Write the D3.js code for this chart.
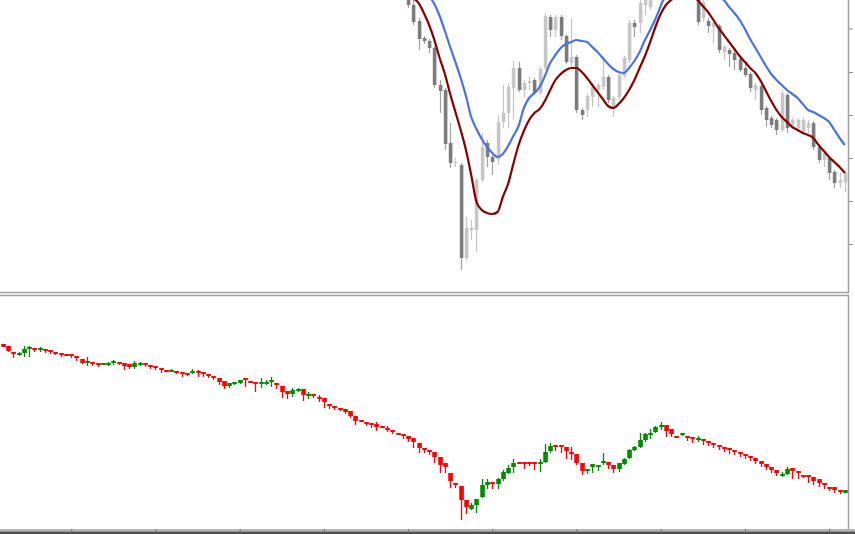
<!DOCTYPE html>
<html><head><meta charset="utf-8">
<script src="https://cdn.jsdelivr.net/npm/d3@7"></script>
<style>html,body{margin:0;padding:0;background:#fff;overflow:hidden}svg{display:block}</style>
</head><body><svg id="chart" width="855" height="534"></svg>
<script>
// ---------- DATA ----------
const barCount = 161;
const upperFirstBar = 77;
const upperOpen = [310,295,279,262,259,252,215,210,157,137,135,42,70,70,120,157,143,141,178,187,212,232,210,217,220,207,232,283,270,283,264,237,243,190,190,203,210,213,223,192,203,224,240,277,277,295,293,310,328,340,330,322,333,315,308,305,282,279,273,274,248,250,247,241,232,226,210,214,192,182,180,170,205,175,172,168,172,177,153,140,142,128,117,118];
const upperHigh = [315,302,282,264,261,254,220,212,177,142,137,83,80,122,167,160,145,185,215,217,239,238,220,223,222,233,287,285,285,285,266,282,245,192,206,217,217,243,225,204,227,244,280,280,300,308,318,335,345,348,335,340,336,320,322,308,303,282,280,276,255,252,249,243,237,228,217,216,194,184,182,210,207,182,182,182,180,179,155,150,144,130,127,129];
const upperLow = [292,275,250,256,247,212,187,150,132,133,30,40,60,48,118,133,125,135,172,172,180,208,203,210,205,205,230,263,263,260,236,233,187,180,183,193,193,210,197,183,200,222,237,263,267,285,290,305,320,325,315,318,310,302,304,275,278,267,257,247,240,233,230,228,223,208,200,185,173,172,165,168,167,172,170,166,167,150,137,133,120,112,112,108];
const upperClose = [295,278,261,259,252,215,209,156,137,138,42,72,72,120,153,143,138,178,187,213,232,210,217,219,207,231,284,270,283,264,238,243,190,185,204,213,215,223,200,202,225,242,277,273,297,305,315,330,340,330,320,335,315,305,318,278,298,274,277,250,253,246,240,230,225,212,215,190,180,175,170,207,172,180,180,180,177,153,140,147,127,117,120,127];
const maFast = [340,330,322,314,304,296,284,269,253,238,222,204,183,171,161,153,147,143,146,154,164,174,192,202,207,213,224,237,245,252,256,258,260,259,258,253,248,242,236,231,228,227,232,239,248,260,270,281,294,306,314,320,324,326,326,324,320,315,309,303,300,293,287,280,271,261,252,243,234,226,220,215,210,206,202,196,190,188,185,182,178,170,162,155];
const maSlow = [308,302,297,287,275,260,242,226,206,188,170,150,125,98,90,87,86,88,103,116,136,155,169,180,187,191,199,210,220,226,230,232,232,228,222,215,208,201,194,192,196,202,210,220,232,244,258,273,286,295,300,304,306,306,304,300,294,288,280,272,265,258,251,244,238,232,227,219,209,199,190,183,178,173,170,167,165,162,155,149,143,138,133,127];
const lowerOpen = [256,254,248,246,247,252,252,251,251,250,248,247,246,246,244,241,237,238,237,235,236,237,238,237,236,233,235,237,235,234,232,230,229,229,228,227,227,229,228,226,224,222,219,214,216,217,222,219,218,216,216,219,217,214,209,206,209,211,205,206,203,202,196,194,192,191,189,184,180,178,177,176,174,172,170,167,166,164,162,157,152,150,148,143,137,127,117,114,100,91,95,103,115,118,116,121,127,133,138,138,138,138,136,138,149,155,155,153,148,146,137,129,133,133,137,138,135,131,136,142,150,153,160,165,168,173,175,171,164,165,164,163,160,161,159,157,155,153,152,150,148,146,144,142,139,136,133,130,125,126,132,129,125,125,123,121,117,113,113,110,107];
const lowerHigh = [256,254,248,248,254,254,252,253,251,250,248,247,246,246,244,241,243,238,237,237,238,240,238,237,236,239,238,237,235,234,232,230,231,229,228,227,231,230,228,226,224,222,219,217,218,220,222,219,218,222,220,223,217,214,209,212,212,211,208,206,205,202,196,194,192,191,189,184,180,178,177,178,174,174,170,167,166,164,162,157,152,150,148,143,137,127,117,114,100,97,101,121,121,118,122,130,135,141,138,138,138,138,141,156,157,155,155,153,153,146,137,131,136,135,147,138,135,137,142,151,154,167,167,171,174,178,175,171,164,167,164,163,164,161,159,157,155,153,152,150,148,146,144,142,139,136,133,130,128,133,132,129,125,125,123,121,117,113,113,110,110];
const lowerLow = [253,248,242,244,243,243,248,248,247,246,245,243,245,242,239,236,234,234,233,235,234,235,235,230,231,231,234,233,231,230,227,228,228,226,223,224,226,223,223,222,220,215,211,212,215,216,213,217,208,212,215,213,211,202,201,203,208,199,201,202,198,192,191,190,189,186,182,175,178,174,172,169,172,168,166,165,161,158,152,147,147,145,137,127,127,112,112,80,86,90,87,102,111,111,111,119,126,127,136,131,134,130,128,137,147,149,147,141,140,135,125,126,127,129,135,131,127,128,135,141,149,152,158,161,167,170,163,163,162,164,159,157,158,155,154,152,150,148,146,145,143,141,139,136,133,130,127,124,123,125,121,121,122,117,115,113,111,109,107,106,107];
const lowerClose = [253,249,246,247,251,253,251,252,249,249,247,246,245,244,242,237,239,237,235,237,237,239,237,234,233,237,237,235,234,232,231,229,230,227,226,226,229,228,226,224,222,218,214,217,218,220,221,218,216,218,218,220,215,208,206,210,211,205,206,204,201,198,194,193,190,188,184,179,178,177,175,173,173,170,168,165,164,161,158,152,150,148,143,135,133,119,115,100,93,95,101,115,118,117,121,128,132,137,137,136,137,137,138,148,154,153,153,149,146,137,129,131,136,135,139,135,131,137,141,150,153,160,166,167,173,175,169,166,162,167,163,161,162,159,157,156,153,152,150,148,146,144,142,139,136,133,130,127,126,131,129,127,123,123,119,117,115,111,110,109,110];
const upperPriceTicks = [271.5,228,185,142,99,56];
const timeTickBars = [13,29,45,61,77,93,109,125,141,157];

// ---------- LAYOUT ----------
const W = 855, H = 534;
const plotRight = 848;
const up = {top:0, bottom:292};
const lo = {top:296, bottom:528};
const svg = d3.select('#chart');

const x = d3.scaleLinear().domain([0, barCount-1]).range([2.8, 844.9]);
const yUp = d3.scaleLinear().domain([8, 300]).range([up.bottom, up.top]);
const yLo = d3.scaleLinear().domain([72, 304]).range([lo.bottom, lo.top]);

const defs = svg.append('defs');
defs.append('clipPath').attr('id','clipUp').append('rect')
  .attr('x',0).attr('y',up.top).attr('width',plotRight).attr('height',up.bottom-up.top);
defs.append('clipPath').attr('id','clipLo').append('rect')
  .attr('x',0).attr('y',lo.top).attr('width',plotRight).attr('height',lo.bottom-lo.top);

svg.append('rect').attr('width',W).attr('height',H).attr('fill','#fff');

// ---------- UPPER PANEL ----------
const upperBars = upperOpen.map((o,k)=>({i:upperFirstBar+k,o,h:upperHigh[k],l:upperLow[k],c:upperClose[k]}));
const gUp = svg.append('g').attr('clip-path','url(#clipUp)');
const px = v => Math.round(x(v));
gUp.selectAll('line.wick').data(upperBars).join('line')
  .attr('x1',d=>px(d.i)+0.5).attr('x2',d=>px(d.i)+0.5)
  .attr('y1',d=>yUp(d.h)).attr('y2',d=>yUp(d.l))
  .attr('stroke',d=>d.c>d.o?'#c4c4c4':'#a0a0a0').attr('stroke-width',1.2);
gUp.selectAll('rect.body').data(upperBars).join('rect')
  .attr('x',d=>px(d.i)-1.2).attr('width',3.6)
  .attr('y',d=>yUp(Math.max(d.o,d.c)))
  .attr('height',d=>Math.max(1.2,Math.abs(yUp(d.o)-yUp(d.c))))
  .attr('fill',d=>d.c>d.o?'#c6c6c6':'#7c7c7c');

const lineGen = d3.line().x(d=>x(d.i)).y(d=>yUp(d.v)).curve(d3.curveMonotoneX);
gUp.append('path').datum(maFast.map((v,k)=>({i:upperFirstBar+k,v})))
  .attr('d',lineGen).attr('fill','none').attr('stroke','#4a72e0').attr('stroke-width',2.2);
gUp.append('path').datum(maSlow.map((v,k)=>({i:upperFirstBar+k,v})))
  .attr('d',lineGen).attr('fill','none').attr('stroke','#870000').attr('stroke-width',2.2);

// ---------- LOWER PANEL ----------
const lowerBars = lowerOpen.map((o,i)=>({i,o,h:lowerHigh[i],l:lowerLow[i],c:lowerClose[i]}));
const gLo = svg.append('g').attr('clip-path','url(#clipLo)');
const col = d => d.c>=d.o ? '#008a00' : '#ff0000';
gLo.selectAll('line').data(lowerBars).join('line')
  .attr('x1',d=>px(d.i)+0.5).attr('x2',d=>px(d.i)+0.5)
  .attr('y1',d=>yLo(d.h)).attr('y2',d=>yLo(d.l))
  .attr('stroke',col).attr('stroke-width',1.3);
gLo.selectAll('rect').data(lowerBars).join('rect')
  .attr('x',d=>px(d.i)-1.75).attr('width',4.6)
  .attr('y',d=>yLo(Math.max(d.o,d.c)))
  .attr('height',d=>Math.max(2,Math.abs(yLo(d.o)-yLo(d.c))))
  .attr('fill',col);

// ---------- FRAMES & AXES ----------
const frame = svg.append('g').attr('fill','none').attr('stroke','#a0a0a0');
frame.append('line').attr('x1',0).attr('x2',plotRight+1).attr('y1',up.bottom+0.5).attr('y2',up.bottom+0.5).attr('stroke-width',1.5);
frame.append('line').attr('x1',0).attr('x2',plotRight+1).attr('y1',lo.top-0.5).attr('y2',lo.top-0.5).attr('stroke-width',1.5);
frame.append('line').attr('x1',plotRight+0.5).attr('x2',plotRight+0.5).attr('y1',0).attr('y2',up.bottom+1).attr('stroke-width',1.5);
frame.append('line').attr('x1',plotRight+0.5).attr('x2',plotRight+0.5).attr('y1',lo.top-1).attr('y2',lo.bottom+1).attr('stroke-width',1.5);

const yAxisUp = d3.axisRight(yUp).tickValues(upperPriceTicks).tickSize(4).tickFormat('');
svg.append('g').attr('transform',`translate(${plotRight+1},0)`).call(yAxisUp)
  .call(g=>g.select('.domain').remove())
  .call(g=>g.selectAll('line').attr('stroke','#909090'));

// bottom strip
svg.append('rect').attr('x',0).attr('y',lo.bottom+1).attr('width',W).attr('height',2.5).attr('fill','#b4b4b4');
svg.append('rect').attr('x',0).attr('y',lo.bottom+3.5).attr('width',W).attr('height',H-lo.bottom-3.5).attr('fill','#505050');
const xAxis = d3.axisBottom(x).tickValues(timeTickBars).tickSize(2.5).tickFormat('');
svg.append('g').attr('transform',`translate(0,${lo.bottom+1})`).call(xAxis)
  .call(g=>g.select('.domain').remove())
  .call(g=>g.selectAll('line').attr('stroke','#707070'));
</script>
</body></html>
